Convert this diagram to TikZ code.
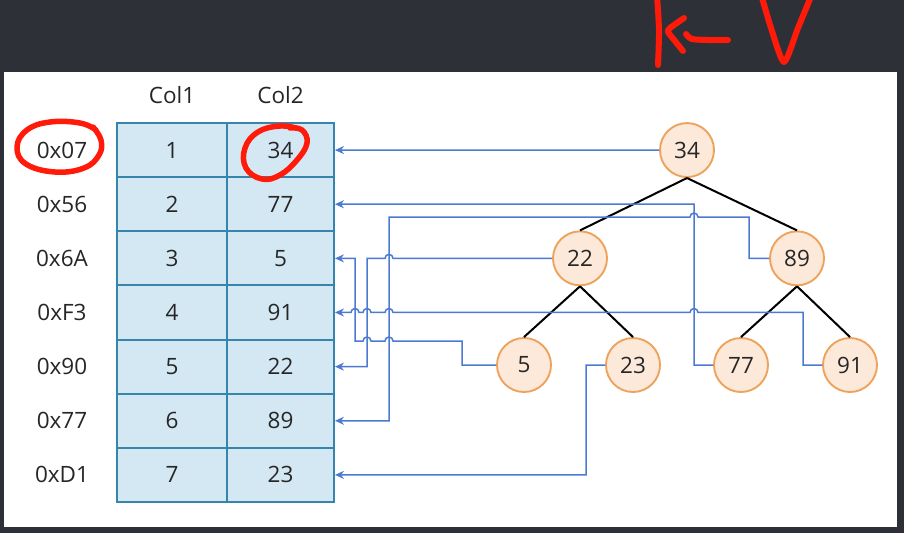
\documentclass[tikz,border=0pt]{standalone}
\usepackage{fontspec}
\setmainfont{Open Sans}
\usetikzlibrary{arrows.meta}

\definecolor{bgdark}{HTML}{2E3038}
\definecolor{tabfill}{HTML}{D3E8F2}
\definecolor{tabline}{HTML}{3585AC}
\definecolor{nodefill}{HTML}{FDE9DA}
\definecolor{nodeline}{HTML}{EEA35C}
\definecolor{linkblue}{HTML}{4C7AD2}
\definecolor{txt}{HTML}{262626}
\definecolor{pen}{HTML}{FF1A0A}

\begin{document}
\begin{tikzpicture}[x=1pt,y=-1pt,
  every node/.style={text=txt, font=\fontsize{22.5}{26}\selectfont},
  cell/.style={draw=tabline, fill=tabfill, line width=1.9pt,
    minimum height=54.14pt, inner sep=0pt},
  lbl/.style={inner sep=0pt},
  tnode/.style={circle, draw=nodeline, fill=nodefill, line width=1.9pt,
    minimum size=54pt, inner sep=0pt},
  edge/.style={draw=black, line width=2pt},
  link/.style={draw=linkblue, line width=1.5pt,
    -{Stealth[length=9pt,width=8pt]}},
  redpen/.style={draw=pen, line width=5.5pt, line cap=round, line join=round}
]
% backdrop and white slide panel
\fill[bgdark] (0,0) rectangle (904,533);
\useasboundingbox (0,0) rectangle (904,533);
\fill[white] (4,72) rectangle (897,527);

% column headers
\node[lbl] (h1) at (172,95) {Col1};
\node[lbl] (h2) at (280.5,95) {Col2};

% table rows: address, Col1, Col2
\foreach \i/\k/\v/\a in {1/1/34/0x07, 2/2/77/0x56, 3/3/5/0x6A, 4/4/91/0xF3,
                         5/5/22/0x90, 6/6/89/0x77, 7/7/23/0xD1} {
  \node[cell, minimum width=110pt] (k\i) at (172,{123+54.14*(\i-0.5)}) {\k};
  \node[cell, minimum width=107pt] (v\i) at (280.5,{123+54.14*(\i-0.5)}) {\v};
  \node[lbl] (a\i) at (62,{123+54.14*(\i-0.5)}) {\a};
}

% binary search tree
\node[tnode] (n34) at (687,150.07) {34};
\node[tnode] (n22) at (580,258.35) {22};
\node[tnode] (n89) at (797,258.35) {89};
\node[tnode] (n5)  at (524,365) {5};
\node[tnode] (n23) at (633,365) {23};
\node[tnode] (n77) at (741,365) {77};
\node[tnode] (n91) at (850,365) {91};

\draw[edge] (n34.south) -- (n22.north);
\draw[edge] (n34.south) -- (n89.north);
\draw[edge] (n22.south) -- (n5.north);
\draw[edge] (n22.south) -- (n23.north);
\draw[edge] (n89.south) -- (n77.north);
\draw[edge] (n89.south) -- (n91.north);

% links from tree nodes back to their rows (with hops over crossings)
\draw[link] (n34.west) -- (v1.east);
\draw[link] (n77.west) -- (694,365) -- (694,204.21) -- (v2.east);
\draw[link] (n89.west) -- (749,258.35) -- (749,217) -- (698,217)
  arc[start angle=0,end angle=180,radius=4pt] -- (389,217) -- (389,420.77) -- (v6.east);
\draw[link] (n22.west) -- (393,258.35)
  arc[start angle=0,end angle=180,radius=4pt] -- (367,258.35) -- (367,366.63) -- (v5.east);
\draw[link] (n5.west) -- (462,365) -- (462,341) -- (393,341)
  arc[start angle=0,end angle=180,radius=4pt] -- (371,341)
  arc[start angle=0,end angle=180,radius=4pt] -- (355,341) -- (355,258.35) -- (v3.east);
\draw[link] (n91.west) -- (803,365) -- (803,312.49) -- (698,312.49)
  arc[start angle=0,end angle=180,radius=4pt] -- (393,312.49)
  arc[start angle=0,end angle=180,radius=4pt] -- (371,312.49)
  arc[start angle=0,end angle=180,radius=4pt] -- (359,312.49)
  arc[start angle=0,end angle=180,radius=4pt] -- (v4.east);
\draw[link] (n23.west) -- (586,365) -- (586,474.91) -- (v7.east);

% red pen marks
\begin{scope}
\clip (0,0) rectangle (904,533);
\draw[redpen] plot[smooth, tension=0.7] coordinates
  {(96,130) (80,123) (50,122) (27,130) (17,147) (26,164) (55,172) (84,168) (99,155) (101,140) (93,127)};
\draw[redpen] plot[smooth, tension=0.7] coordinates
  {(300,129) (280,126) (258,132) (245,148) (246,168) (262,179) (280,175) (297,160) (307,143) (302,130) (290,128)};
\draw[redpen, line width=6pt] plot[smooth] coordinates {(657,-4) (659,30) (658,65)};
\draw[redpen, line width=6pt] plot[smooth, tension=0.4] coordinates {(684,18) (670,28) (668,32) (675,41) (683,51)};
\draw[redpen, line width=6pt] plot[smooth] coordinates {(686,34) (692,39) (710,40) (728,40)};
\draw[redpen, line width=6pt] plot[smooth, tension=0.4] coordinates {(761,-6) (771,28) (784,62) (798,28) (812,-6)};
\end{scope}
\end{tikzpicture}
\end{document}
